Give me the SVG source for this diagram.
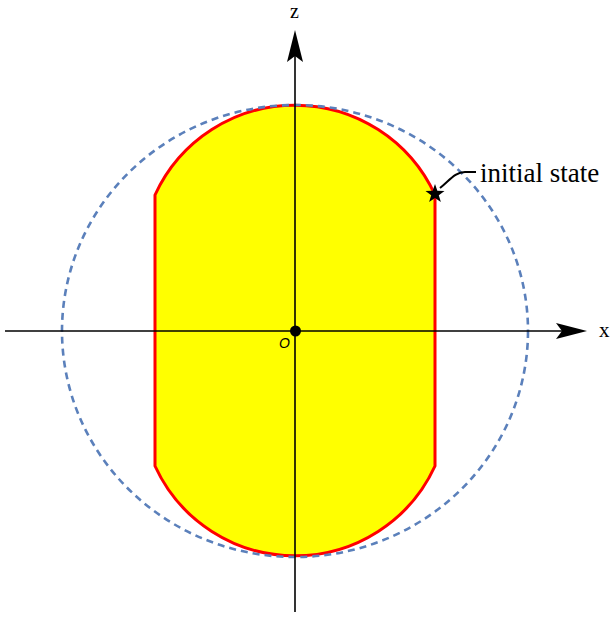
<svg xmlns="http://www.w3.org/2000/svg" width="613" height="618" viewBox="0 0 613 618">
  <style>
    .axis { stroke: #000; stroke-width: 1.6; fill: none; }
    .head { fill: #000; stroke: none; }
    .lbl { font-family: "Liberation Serif", "Times New Roman", serif; fill: #000; }
  </style>
  <rect width="613" height="618" fill="#fff"/>
  <g id="region">
    <path d="M155,195 A154,154 0 0 1 435,195 L435,466 A154,154 0 0 1 155,466 Z" fill="#ffff00" stroke="#ff0000" stroke-width="3" stroke-linejoin="miter"/>
  </g>
  <g id="bound-circle">
    <ellipse cx="295" cy="331" rx="233" ry="226" fill="none" stroke="#5b80bb" stroke-width="2.6" stroke-dasharray="7 5"/>
  </g>
  <g id="connectors">
    <line class="axis" x1="5" y1="331" x2="562" y2="331"/>
    <path class="head" d="M587,331 L556,323 L562,331 L556,339 Z"/>
    <line class="axis" x1="295" y1="612" x2="295" y2="56"/>
    <path class="head" d="M295,30 L287,62 L295,56 L303,62 Z"/>
    <path d="M440,188 C450,180 455,172 465,172 L476,172" fill="none" stroke="#000" stroke-width="2"/>
  </g>
  <g id="x-label"><text class="lbl" x="599" y="337" font-size="21">x</text></g>
  <g id="z-label"><text class="lbl" x="290" y="18" font-size="20">z</text></g>
  <g id="origin">
    <circle cx="295.5" cy="331" r="5.5" fill="#000"/>
    <text x="279" y="347.5" font-family="Liberation Sans, Arial, sans-serif" font-style="italic" font-size="14" fill="#000">O</text>
  </g>
  <g id="initial-state">
    <polygon points="435,184 437.35,190.76 444.51,190.91 438.8,195.24 440.88,202.09 435,198 429.12,202.09 431.2,195.24 425.49,190.91 432.65,190.76" fill="#000"/>
    <text class="lbl" x="480" y="182" font-size="27">initial state</text>
  </g>
</svg>
